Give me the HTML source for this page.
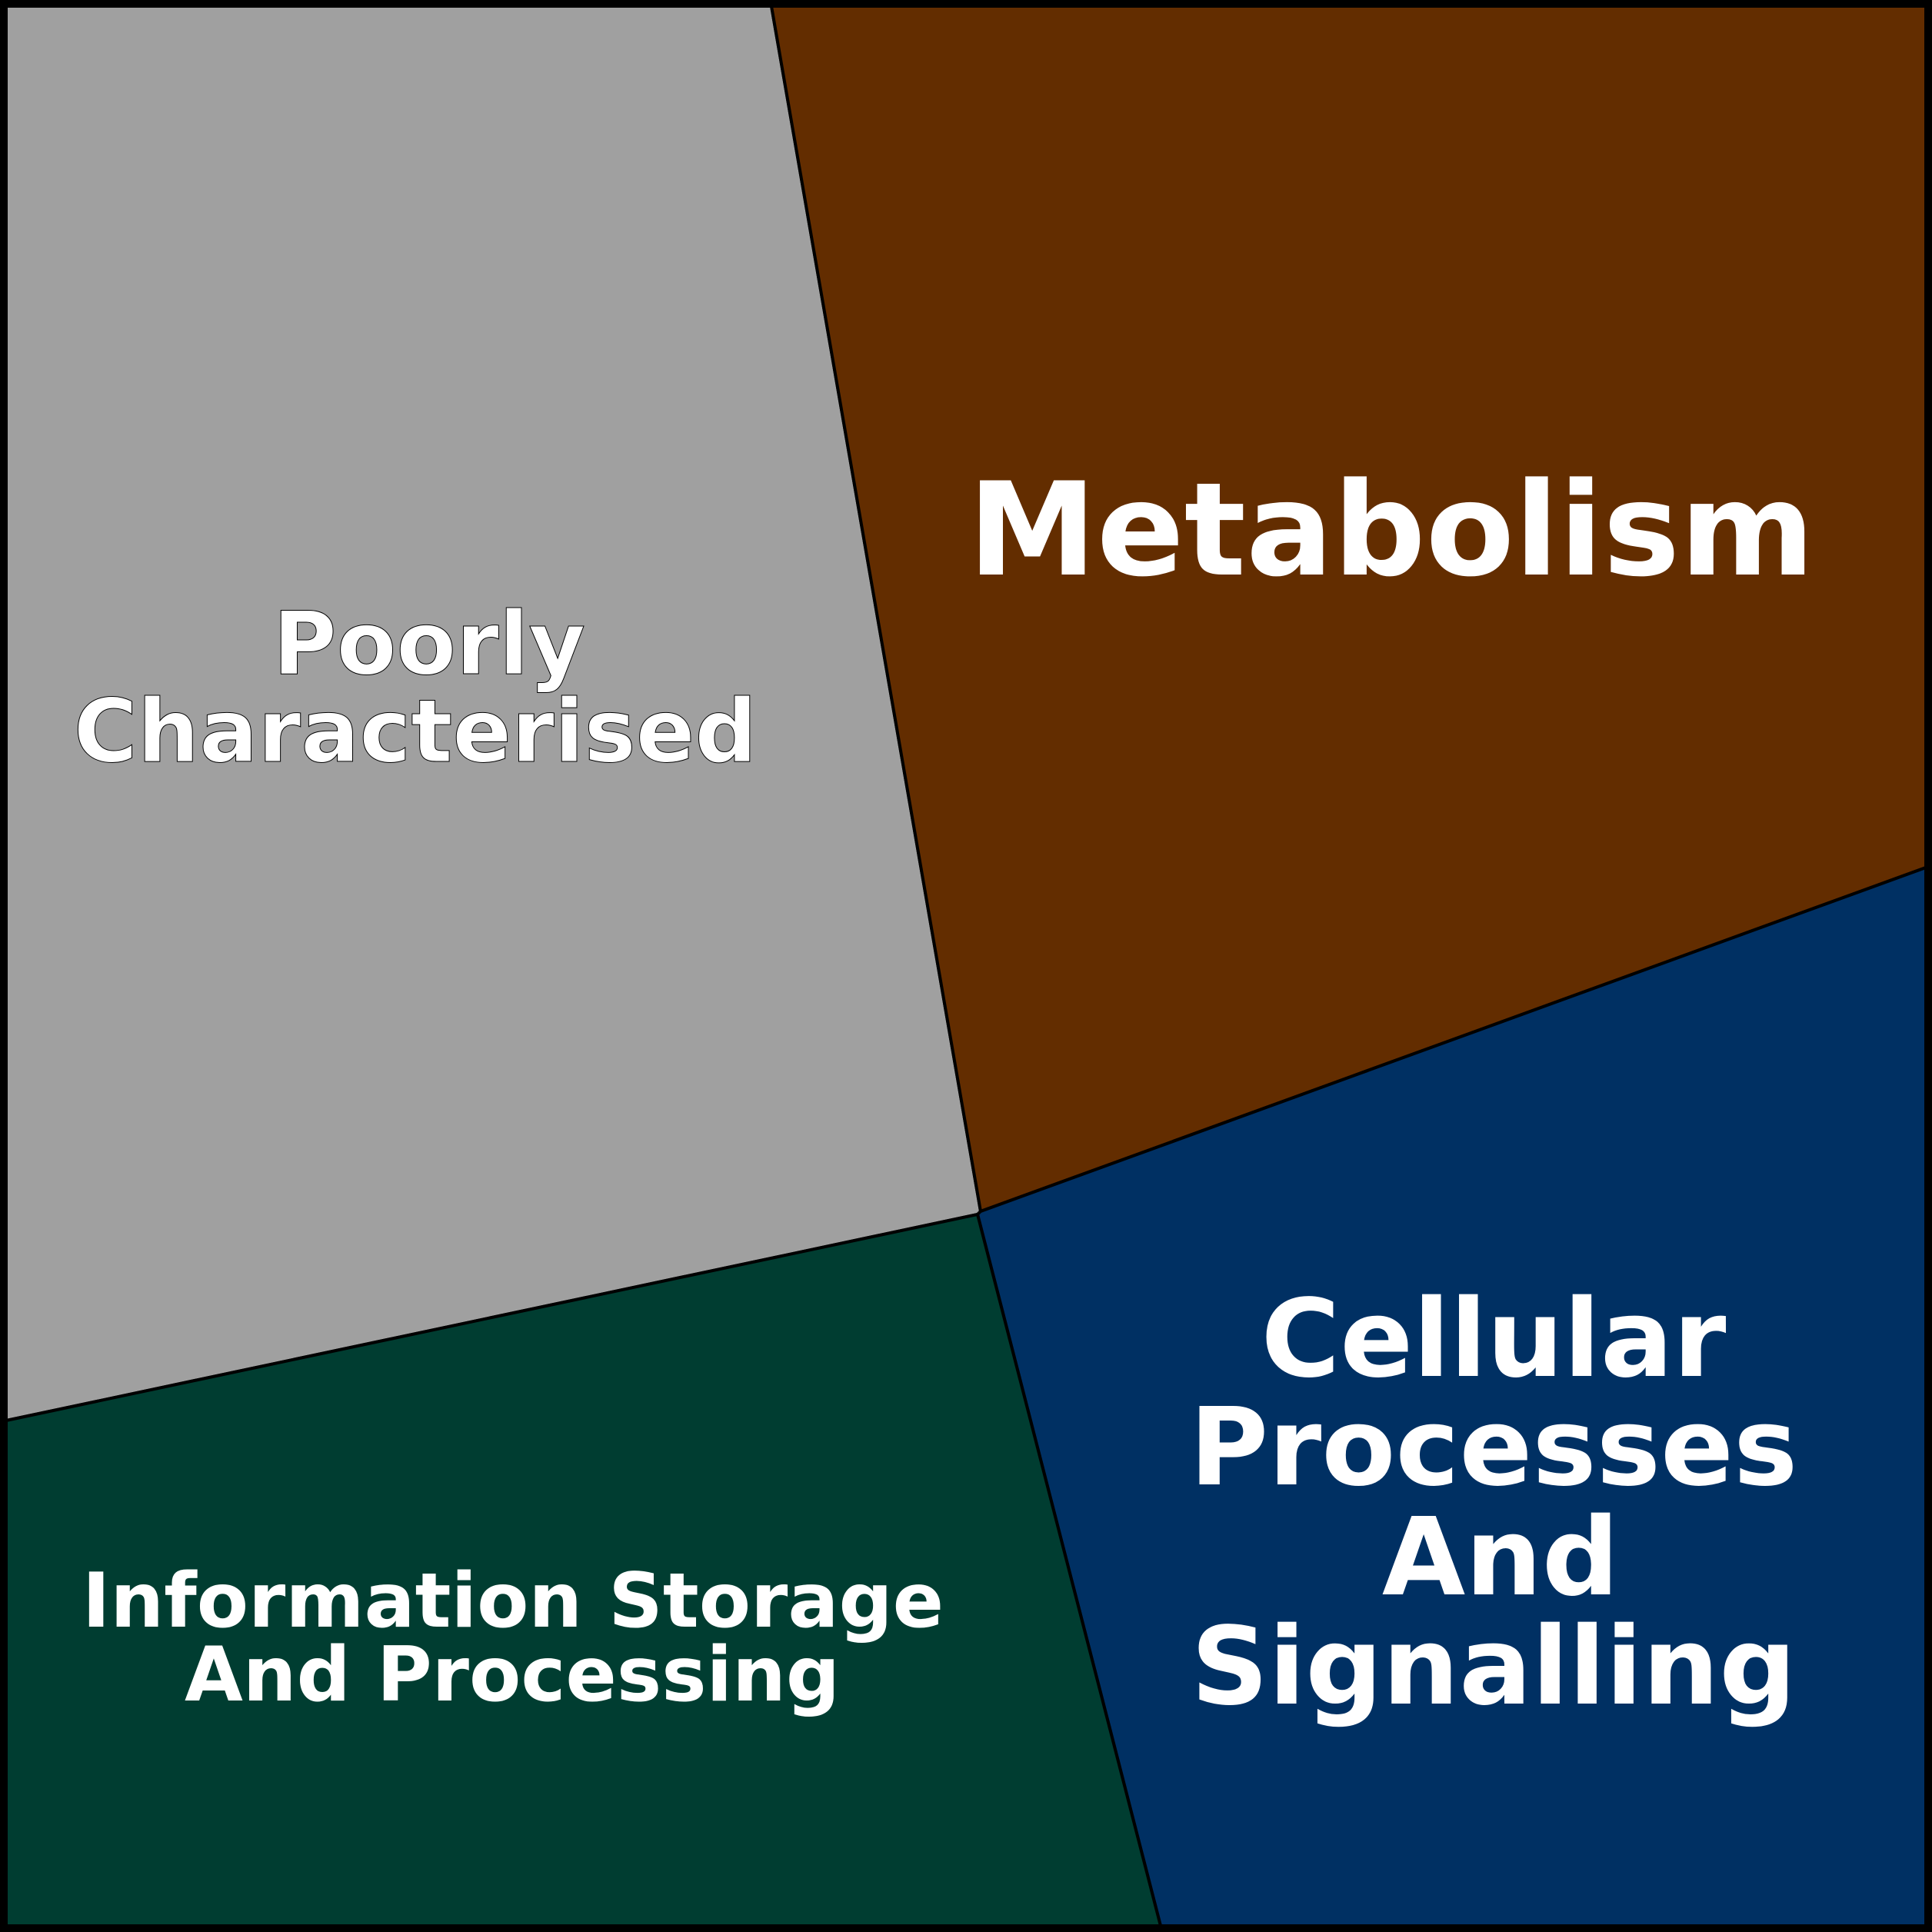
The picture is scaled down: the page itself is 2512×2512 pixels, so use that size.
<!DOCTYPE html>
<html><head><meta charset="utf-8"><style>html,body{margin:0;padding:0;background:#fff}svg{display:block}</style></head>
<body>
<svg width="2512" height="2512" viewBox="0 0 2512 2512" xmlns="http://www.w3.org/2000/svg">
<g stroke="#000" stroke-width="4" stroke-linejoin="round">
<polygon points="8,8 1003,8 1275,1575 1271,1579 8,1847" fill="#a0a0a0"/>
<polygon points="1003,8 2504,8 2504,1128 1275,1575" fill="#632d00"/>
<polygon points="1275,1575 2504,1128 2504,2504 1509,2504 1271,1579" fill="#003063"/>
<polygon points="8,1847 1271,1579 1509,2504 8,2504" fill="#003d31"/>
</g>
<rect x="4" y="4" width="2504" height="2504" fill="none" stroke="#000" stroke-width="9"/>
<g font-family="'DejaVu Sans','Liberation Sans',sans-serif" font-weight="bold" fill="#fff" text-anchor="middle">
<text x="1809" y="747" font-size="168">Metabolism</text>
<g font-size="113" stroke="#000" stroke-width="1">
<text x="558" y="876">Poorly</text>
<text x="540" y="990">Characterised</text>
</g>
<g font-size="140">
<text x="1942" y="1789">Cellular</text>
<text x="1942" y="1930">Processes</text>
<text x="1951" y="2073">And</text>
<text x="1942" y="2215">Signalling</text>
</g>
<g font-size="98">
<text x="667" y="2115">Information Storage</text>
<text x="666" y="2211">And Processing</text>
</g>
</g>
</svg>
</body></html>
